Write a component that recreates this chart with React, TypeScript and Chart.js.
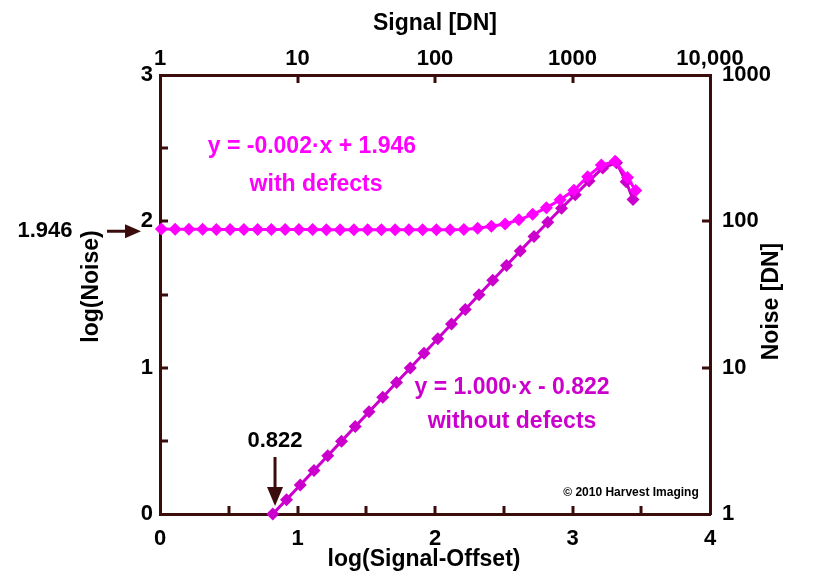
import React, { useEffect, useRef } from 'react';
import { Chart, registerables } from 'chart.js';

Chart.register(...registerables);

// ---- data ----
const withDefectsX = [0.01, 0.11, 0.21, 0.31, 0.41, 0.51, 0.61, 0.71, 0.81, 0.91, 1.01, 1.11, 1.21, 1.31, 1.41, 1.51, 1.61, 1.71, 1.81, 1.91, 2.01, 2.11, 2.21, 2.31, 2.41, 2.51, 2.61, 2.71, 2.81, 2.91, 3.01, 3.11, 3.21, 3.31, 3.40, 3.46];
const withDefectsY = [1.947, 1.946, 1.946, 1.946, 1.945, 1.945, 1.945, 1.945, 1.944, 1.944, 1.944, 1.944, 1.943, 1.943, 1.943, 1.943, 1.942, 1.942, 1.942, 1.942, 1.942, 1.943, 1.945, 1.952, 1.966, 1.982, 2.010, 2.048, 2.092, 2.148, 2.212, 2.305, 2.385, 2.410, 2.300, 2.210];

const withoutDefectsX = [0.82, 0.92, 1.02, 1.12, 1.22, 1.32, 1.42, 1.52, 1.62, 1.72, 1.82, 1.92, 2.02, 2.12, 2.22, 2.32, 2.42, 2.52, 2.62, 2.72, 2.82, 2.92, 3.02, 3.12, 3.22, 3.32, 3.39, 3.44];
const withoutDefectsY = [0.000, 0.098, 0.198, 0.298, 0.398, 0.498, 0.598, 0.698, 0.798, 0.898, 0.998, 1.098, 1.198, 1.298, 1.398, 1.498, 1.598, 1.698, 1.798, 1.896, 1.994, 2.090, 2.182, 2.275, 2.365, 2.400, 2.270, 2.150];

const bottomTickValues = [0, 1, 2, 3, 4];
const leftTickValues = [0, 1, 2, 3];
const topTickValues = [1, 10, 100, 1000, 10000];
const topTickLabels = ['1', '10', '100', '1000', '10,000'];
const rightTickValues = [1, 10, 100, 1000];
const rightTickLabels = ['1', '10', '100', '1000'];

const bottomInnerTicks = [0.5, 1, 1.5, 2, 2.5, 3, 3.5];
const leftInnerTicks = [0.5, 1, 1.5, 2, 2.5];
const topInnerTicks = [10, 100, 1000];
const rightInnerTicks = [10, 100];

const xTitle = 'log(Signal-Offset)';
const yTitle = 'log(Noise)';
const xTopTitle = 'Signal [DN]';
const yRightTitle = 'Noise [DN]';
const withDefectsFit = 'y = -0.002·x + 1.946';
const withDefectsLabel = 'with defects';
const withoutDefectsFit = 'y = 1.000·x - 0.822';
const withoutDefectsLabel = 'without defects';
const interceptNoise = 1.946;
const interceptNoiseLabel = '1.946';
const interceptSignal = 0.822;
const interceptSignalLabel = '0.822';
const copyrightText = '© 2010 Harvest Imaging';

// ---- style ----
const FONT = '"Liberation Sans", Arial, Helvetica, sans-serif';
const AXIS = '#3a0c0c';
const PINK = '#FF00FF';
const PURPLE = '#CC00CC';
const TICK_SIZE = 22;
const TITLE_SIZE = 23;

const annotationsPlugin = {
  id: 'annotations',
  afterDraw(chart: any) {
    const { ctx } = chart;
    const sx = chart.scales.x;
    const sy = chart.scales.y;
    const st = chart.scales.xTop;
    const sr = chart.scales.yRight;
    const area = chart.chartArea;
    const L = 8;
    ctx.save();
    // inward tick marks
    ctx.strokeStyle = AXIS;
    ctx.lineWidth = 3;
    ctx.beginPath();
    bottomInnerTicks.forEach((v) => {
      const p = Math.round(sx.getPixelForValue(v));
      ctx.moveTo(p, area.bottom);
      ctx.lineTo(p, area.bottom - L);
    });
    leftInnerTicks.forEach((v) => {
      const p = Math.round(sy.getPixelForValue(v));
      ctx.moveTo(area.left, p);
      ctx.lineTo(area.left + L, p);
    });
    topInnerTicks.forEach((v) => {
      const p = Math.round(st.getPixelForValue(v));
      ctx.moveTo(p, area.top);
      ctx.lineTo(p, area.top + L);
    });
    rightInnerTicks.forEach((v) => {
      const p = Math.round(sr.getPixelForValue(v));
      ctx.moveTo(area.right, p);
      ctx.lineTo(area.right - L, p);
    });
    ctx.stroke();

    // axis titles
    ctx.fillStyle = '#000';
    ctx.font = `bold ${TITLE_SIZE}px ${FONT}`;
    ctx.textAlign = 'center';
    ctx.textBaseline = 'middle';
    ctx.save();
    ctx.translate(772, (area.top + area.bottom) / 2 + 7);
    ctx.rotate(-Math.PI / 2);
    ctx.fillText(yRightTitle, 0, 0);
    ctx.restore();
    ctx.save();
    ctx.translate(92, (area.top + area.bottom) / 2 - 8);
    ctx.rotate(-Math.PI / 2);
    ctx.fillText(yTitle, 0, 0);
    ctx.restore();
    ctx.fillText(xTitle, 424, 560);

    // fit equations
    ctx.font = `bold 23px ${FONT}`;
    ctx.fillStyle = PINK;
    ctx.fillText(withDefectsFit, sx.getPixelForValue(1.105), sy.getPixelForValue(2.51));
    ctx.fillText(withDefectsLabel, sx.getPixelForValue(1.135), sy.getPixelForValue(2.25));
    ctx.fillStyle = PURPLE;
    ctx.fillText(withoutDefectsFit, sx.getPixelForValue(2.56), sy.getPixelForValue(0.865));
    ctx.fillText(withoutDefectsLabel, sx.getPixelForValue(2.56), sy.getPixelForValue(0.63));

    // 1.946 arrow
    const yN = sy.getPixelForValue(interceptNoise) + 2;
    ctx.fillStyle = '#000';
    ctx.font = `bold ${TICK_SIZE}px ${FONT}`;
    ctx.fillText(interceptNoiseLabel, 45, yN);
    ctx.strokeStyle = AXIS;
    ctx.fillStyle = AXIS;
    ctx.lineWidth = 3;
    ctx.beginPath();
    ctx.moveTo(107, yN);
    ctx.lineTo(128, yN);
    ctx.stroke();
    ctx.beginPath();
    ctx.moveTo(141, yN);
    ctx.lineTo(125, yN - 7);
    ctx.lineTo(125, yN + 7);
    ctx.closePath();
    ctx.fill();

    // 0.822 arrow
    const xS = sx.getPixelForValue(interceptSignal) + 2;
    ctx.fillStyle = '#000';
    ctx.fillText(interceptSignalLabel, xS, 441);
    ctx.strokeStyle = AXIS;
    ctx.fillStyle = AXIS;
    ctx.beginPath();
    ctx.moveTo(xS, 457);
    ctx.lineTo(xS, 490);
    ctx.stroke();
    ctx.beginPath();
    ctx.moveTo(xS, 506);
    ctx.lineTo(xS - 8, 487);
    ctx.lineTo(xS + 8, 487);
    ctx.closePath();
    ctx.fill();

    // copyright
    ctx.fillStyle = '#000';
    ctx.font = `bold 12px ${FONT}`;
    ctx.fillText(copyrightText, 631, 493);
    ctx.restore();
  },
};

export default function App() {
  const ref = useRef<HTMLCanvasElement | null>(null);

  useEffect(() => {
    if (!ref.current) return;
    const tickFont = { family: FONT, size: TICK_SIZE, weight: 'bold' as const };
    const titleFont = { family: FONT, size: TITLE_SIZE, weight: 'bold' as const };
    const chart = new Chart(ref.current, {
      type: 'line',
      data: {
        datasets: [
          {
            label: 'with defects',
            data: withDefectsX.map((x, i) => ({ x, y: withDefectsY[i] })),
            borderColor: PINK,
            backgroundColor: PINK,
            borderWidth: 3,
            pointStyle: 'rectRot',
            pointRadius: 6.5,
            pointBorderWidth: 0,
            pointBackgroundColor: PINK,
            xAxisID: 'x',
            yAxisID: 'y',
            clip: false as any,
          },
          {
            label: 'without defects',
            data: withoutDefectsX.map((x, i) => ({ x, y: withoutDefectsY[i] })),
            borderColor: PURPLE,
            backgroundColor: PURPLE,
            borderWidth: 3,
            pointStyle: 'rectRot',
            pointRadius: 6.5,
            pointBorderWidth: 0,
            pointBackgroundColor: PURPLE,
            xAxisID: 'x',
            yAxisID: 'y',
            clip: false as any,
          },
        ],
      },
      options: {
        animation: false,
        responsive: false,
        devicePixelRatio: 1,
        layout: { padding: 0 },
        plugins: { legend: { display: false }, tooltip: { enabled: false } },
        scales: {
          x: {
            type: 'linear',
            position: 'bottom',
            min: 0,
            max: 4,
            afterBuildTicks: (s: any) => {
              s.ticks = bottomTickValues.map((v) => ({ value: v }));
            },
            afterFit: (s: any) => {
              s.height = 64;
            },
            ticks: { font: tickFont, color: '#000', padding: 12, maxRotation: 0, autoSkip: false },
            grid: { display: false, drawTicks: false },
            border: { display: true, color: AXIS, width: 3 },
            title: { display: false },
          },
          xTop: {
            type: 'logarithmic',
            position: 'top',
            display: true,
            min: 1,
            max: 10000,
            afterBuildTicks: (s: any) => {
              s.ticks = topTickValues.map((v) => ({ value: v }));
            },
            afterFit: (s: any) => {
              s.height = 75;
            },
            ticks: {
              font: tickFont,
              color: '#000',
              padding: 3,
              maxRotation: 0,
              autoSkip: false,
              callback: (v: any) => {
                const i = topTickValues.indexOf(Number(v));
                return i >= 0 ? topTickLabels[i] : '';
              },
            },
            grid: { display: false, drawTicks: false },
            border: { display: true, color: AXIS, width: 3 },
            title: {
              display: true,
              text: xTopTitle,
              font: titleFont,
              color: '#000',
              padding: { top: 10, bottom: 0 },
            },
          },
          y: {
            type: 'linear',
            position: 'left',
            min: 0,
            max: 3,
            afterBuildTicks: (s: any) => {
              s.ticks = leftTickValues.map((v) => ({ value: v }));
            },
            afterFit: (s: any) => {
              s.width = 160;
            },
            ticks: { font: tickFont, color: '#000', padding: 7, autoSkip: false },
            grid: { display: false, drawTicks: false },
            border: { display: true, color: AXIS, width: 3 },
            title: { display: false },
          },
          yRight: {
            type: 'logarithmic',
            position: 'right',
            display: true,
            min: 1,
            max: 1000,
            afterBuildTicks: (s: any) => {
              s.ticks = rightTickValues.map((v) => ({ value: v }));
            },
            afterFit: (s: any) => {
              s.width = 130;
            },
            ticks: {
              font: tickFont,
              color: '#000',
              padding: 12,
              autoSkip: false,
              callback: (v: any) => {
                const i = rightTickValues.indexOf(Number(v));
                return i >= 0 ? rightTickLabels[i] : '';
              },
            },
            grid: { display: false, drawTicks: false },
            border: { display: true, color: AXIS, width: 3 },
            title: { display: false },
          },
        },
      } as any,
      plugins: [annotationsPlugin],
    });
    return () => chart.destroy();
  }, []);

  return (
    <div style={{ position: 'fixed', left: 0, top: 0, width: 840, height: 578, background: '#fff' }}>
      <canvas ref={ref} width={840} height={578} style={{ display: 'block', width: 840, height: 578 }} />
    </div>
  );
}
